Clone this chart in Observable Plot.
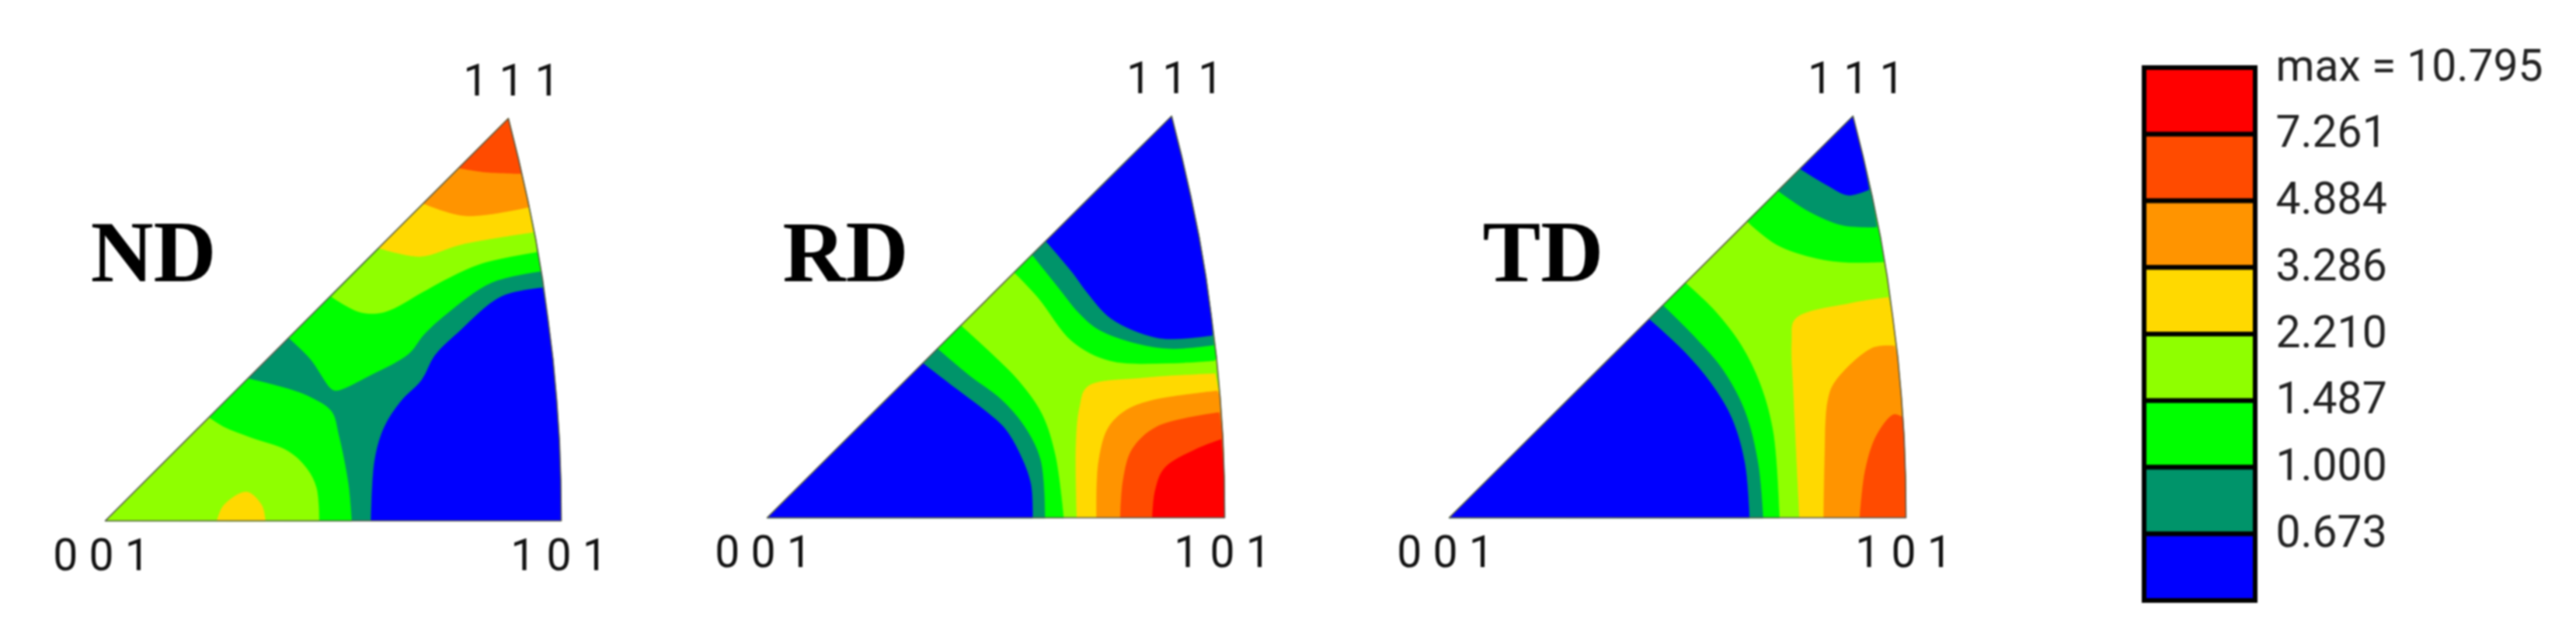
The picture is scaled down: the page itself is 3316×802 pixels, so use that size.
<!DOCTYPE html>
<html>
<head>
<meta charset="utf-8">
<script src="https://cdn.jsdelivr.net/npm/d3@7"></script>
<script src="https://cdn.jsdelivr.net/npm/@observablehq/plot@0.6"></script>
<style>
html,body{margin:0;padding:0;background:#fff;width:3316px;height:802px;overflow:hidden}
#page{position:relative;width:3316px;height:802px}
#page svg{position:absolute;display:block;background:none;max-width:none;filter:blur(0.8px)}
</style>
</head>
<body>
<div id="page"></div>
<script>
// Colour bands (top of legend first)
const bandLabels = ["max = 10.795","7.261","4.884","3.286","2.210","1.487","1.000","0.673"];
const bandColors = ["#ff0000","#ff4b00","#ff9400","#ffd900","#8fff00","#00ff00","#00946a","#0000ff"];
const [bRed,bOrangeRed,bOrange,bYellow,bLime,bGreen,bTeal,bBlue] = bandLabels;

// Fundamental-triangle outline: u along 001→101 at v = 0, 0.1 … 1 (001→111 height)
const arcU = [1,.999,.996,.990,.982,.971,.959,.944,.926,.906,.884];
const hypSlope = .884;

// Vertex labels
const vertexLabels = ["0 0 1","1 0 1","1 1 1"];
const vertexU = [0,1,.884];
const vertexV = [0,0,1];

// ND band boundaries [u,v]
const ndBlue = [[.959,.579],[.868,.557],[.773,.467],[.723,.411],[.694,.350],[.649,.298],[.612,.233],[.591,.151],[.583,0]];
const ndGreenTop = [[.403,.454],[.450,.402],[.496,.328],[.508,.324],[.583,.363],[.665,.415],[.698,.462],[.748,.514],[.847,.592],[.955,.620]];
const ndLimeTop = [[.496,.557],[.558,.519],[.612,.519],[.698,.570],[.748,.601],[.826,.640],[.946,.668]];
const ndYellowTop = [[.600,.678],[.690,.657],[.781,.687],[.938,.717]];
const ndOrangeTop = [[.697,.789],[.789,.758],[.930,.780]];
const ndOrangeRedTop = [[.775,.877],[.831,.867],[.912,.863]];
const ndGreenLow = [[.540,0],[.533,.091],[.512,.212],[.496,.272],[.450,.307],[.401,.328],[.313,.354]];
const ndLimeLow = [[.469,0],[.463,.082],[.442,.130],[.401,.173],[.318,.207],[.260,.233],[.227,.257]];
const ndYellowLow = [[.351,0],[.343,.039],[.310,.072],[.260,.039],[.245,0]];

// RD band boundaries
const rdGreenLow = [[.648,0],[.630,.154],[.601,.257],[.551,.339],[.502,.396],[.423,.479]];
const rdTealLow = [[.607,0],[.597,.145],[.560,.231],[.510,.296],[.444,.352],[.372,.421]];
const rdBlueLow = [[.580,0],[.576,.085],[.551,.162],[.519,.223],[.477,.266],[.412,.322],[.340,.385]];
const rdGreenTop = [[.540,.611],[.593,.547],[.667,.439],[.749,.391],[.881,.385],[.978,.391]];
const rdTealTop = [[.579,.655],[.634,.577],[.683,.508],[.724,.469],[.807,.434],[.881,.421],[.976,.430]];
const rdBlueTop = [[.609,.689],[.667,.611],[.700,.560],[.753,.495],[.848,.449],[.905,.446],[.973,.454]];
const rdYellow = [[.979,.359],[.823,.348],[.700,.326],[.683,.275],[.675,.180],[.677,0]];
const rdOrange = [[.984,.316],[.840,.292],[.782,.266],[.745,.223],[.724,.136],[.720,0]];
const rdOrangeRed = [[.988,.262],[.852,.227],[.798,.171],[.778,.093],[.772,0]];
const rdRed = [[.992,.195],[.938,.171],[.868,.123],[.848,.067],[.842,0]];

// TD band boundaries
const tdGreenLow = [[.723,0],[.709,.214],[.680,.335],[.639,.430],[.581,.516],[.517,.585]];
const tdTealLow = [[.687,0],[.676,.136],[.647,.266],[.598,.370],[.540,.447],[.468,.529]];
const tdBlueLow = [[.657,0],[.647,.136],[.618,.249],[.573,.335],[.515,.413],[.437,.495]];
const tdGreenTop = [[.652,.738],[.717,.680],[.804,.646],[.870,.636],[.951,.637]];
const tdTealTop = [[.720,.814],[.787,.763],[.862,.728],[.936,.724]];
const tdBlueTop = [[.768,.869],[.829,.827],[.874,.803],[.919,.817]];
const tdYellow = [[.962,.549],[.878,.534],[.758,.495],[.750,.439],[.754,.309],[.767,0]];
const tdOrange = [[.975,.428],[.927,.423],[.845,.339],[.829,.292],[.822,.136],[.820,0]];
const tdOrangeRed = [[.993,.250],[.973,.257],[.936,.206],[.911,.119],[.899,0]];

// Paint order: background band, then [band, boundary]
const ndLayers = [[bTeal,null],[bBlue,ndBlue],[bGreen,ndGreenTop],[bLime,ndLimeTop],[bYellow,ndYellowTop],[bOrange,ndOrangeTop],[bOrangeRed,ndOrangeRedTop],
  [bGreen,ndGreenLow],[bLime,ndLimeLow],[bYellow,ndYellowLow]];
const rdLayers = [[bLime,null],[bGreen,rdGreenLow],[bTeal,rdTealLow],[bBlue,rdBlueLow],[bGreen,rdGreenTop],[bTeal,rdTealTop],[bBlue,rdBlueTop],
  [bYellow,rdYellow],[bOrange,rdOrange],[bOrangeRed,rdOrangeRed],[bRed,rdRed]];
const tdLayers = [[bLime,null],[bGreen,tdGreenLow],[bTeal,tdTealLow],[bBlue,tdBlueLow],[bGreen,tdGreenTop],[bTeal,tdTealTop],[bBlue,tdBlueTop],
  [bYellow,tdYellow],[bOrange,tdOrange],[bOrangeRed,tdOrangeRed]];

// Perimeter walk: closes each boundary along the triangle edge, counter-clockwise 001→101→111→001
const knots = [{s:0,u:0,v:0}].concat(arcU.map((u,i)=>({s:1+i/10,u,v:i/10})));
const perim = ([u,v]) => v===0 ? u : Math.abs(u-hypSlope*v)<.012 ? 3-v : 1+v;
function polygon(curve){
  if(!curve) return knots.map(k=>[k.u,k.v]);
  const a = perim(curve[curve.length-1]);
  let b = perim(curve[0]); if(b<=a) b+=3;
  const walk = knots.concat(knots.map(k=>({...k,s:k.s+3}))).filter(k=>k.s>a&&k.s<b);
  return curve.concat(walk.map(k=>[k.u,k.v]));
}
const outline = knots.map(k=>[k.u,k.v]).concat([[0,0]]);

// Curve: the first n points (the contour) are rounded, the rest (triangle edge) stay straight
const contourCurve = n => ctx => {
  let pts = [];
  return {
    areaStart(){}, areaEnd(){},
    lineStart(){ pts = []; },
    point(x,y){ pts.push([+x,+y]); },
    lineEnd(){
      const c = d3.curveCatmullRom.alpha(.5)(ctx);
      c.lineStart();
      pts.slice(0,n).forEach(p=>c.point(p[0],p[1]));
      c.lineEnd();
      pts.slice(n).forEach(p=>ctx.lineTo(p[0],p[1]));
      ctx.closePath();
    }
  };
};

const colorScale = {type:"ordinal",domain:bandLabels,range:bandColors};
const sans = "Roboto,'Liberation Sans',Arial,sans-serif";

function panel({title,layers,x0,yBase,w,h,titleU,titleV}){
  const mL=130,mR=110,mT=90,mB=90;
  const svg = Plot.plot({
    width:w+mL+mR,height:h+mT+mB,marginLeft:mL,marginRight:mR,marginTop:mT,marginBottom:mB,
    x:{domain:[0,1],axis:null},y:{domain:[0,1],axis:null},color:colorScale,
    marks:[
      ...layers.map(([band,curve])=>Plot.line(polygon(curve).map(p=>({u:p[0],v:p[1],band})),
        {x:"u",y:"v",fill:"band",stroke:"band",strokeWidth:.5,curve:curve?contourCurve(curve.length):"linear-closed"})),
      Plot.line(outline,{x:d=>d[0],y:d=>d[1],stroke:"#5a5a4a",strokeWidth:1.6,curve:"linear"}),
      Plot.text([vertexLabels[0]],{x:[vertexU[0]],y:[vertexV[0]],text:d=>d,fontFamily:sans,fontSize:57,fill:"#111",dx:-5,dy:45}),
      Plot.text([vertexLabels[1]],{x:[vertexU[1]],y:[vertexV[1]],text:d=>d,fontFamily:sans,fontSize:57,fill:"#111",dx:-3,dy:45}),
      Plot.text([vertexLabels[2]],{x:[vertexU[2]],y:[vertexV[2]],text:d=>d,fontFamily:sans,fontSize:57,fill:"#111",dx:4,dy:-48}),
      Plot.text([title],{x:[titleU],y:[titleV],text:d=>d,textAnchor:"start",lineAnchor:"bottom",
        fontFamily:"'Liberation Serif','Times New Roman',serif",fontWeight:"bold",fontSize:112,fill:"#000",dy:-2})
    ]
  });
  svg.style.left=(x0-mL)+"px";
  svg.style.top=(yBase-h-mT)+"px";
  return svg;
}

function legend(){
  const left=2720,top=40,lw=143,mL=40,mR=414,mT=47,segs=686,mB=30;
  const svg = Plot.plot({
    width:mL+lw+mR,height:mT+segs+mB,marginLeft:mL,marginRight:mR,marginTop:mT,marginBottom:mB,
    x:{axis:null},y:{domain:bandLabels,axis:null,padding:0,round:false},color:colorScale,
    marks:[
      Plot.cell(bandLabels,{y:d=>d,fill:d=>d,stroke:"#000",strokeWidth:6,inset:0}),
      Plot.text(bandLabels,{y:d=>d,text:d=>d,frameAnchor:"right",textAnchor:"start",dx:26,dy:-45,
        fontFamily:sans,fontSize:57,fill:"#222"})
    ]
  });
  svg.style.left=left+"px";
  svg.style.top=top+"px";
  return svg;
}

const page=document.getElementById("page");
page.append(
  panel({title:"ND",layers:ndLayers,x0:135,yBase:670,w:587,h:518,titleU:-.032,titleV:.591}),
  panel({title:"RD",layers:rdLayers,x0:987,yBase:666,w:589,h:517,titleU:.034,titleV:.585}),
  panel({title:"TD",layers:tdLayers,x0:1865,yBase:666,w:588,h:517,titleU:.073,titleV:.585}),
  legend()
);
</script>
</body>
</html>
